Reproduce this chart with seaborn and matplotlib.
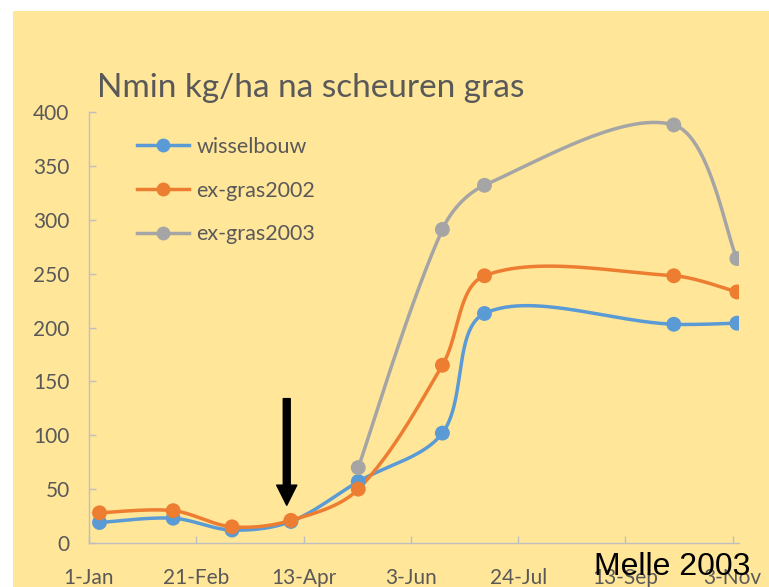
import numpy as np
import pandas as pd
import matplotlib
matplotlib.use("Agg")
import matplotlib.pyplot as plt
import seaborn as sns
from matplotlib.lines import Line2D
from matplotlib.patches import Rectangle

# ---- data ----
dates = ["2003-01-06", "2003-02-10", "2003-03-10", "2003-04-07", "2003-05-09",
         "2003-06-18", "2003-07-08", "2003-10-06", "2003-11-05"]
wisselbouw = [19, 23, 12, 20, 57, 102, 213, 203, 204]
ex_gras2002 = [28, 30, 15, 21, 50, 165, 248, 248, 233]
ex_gras2003 = [np.nan, np.nan, np.nan, np.nan, 70, 291, 332, 388, 264]
series_names = ["wisselbouw", "ex-gras2002", "ex-gras2003"]
tick_labels = ["1-Jan", "21-Feb", "13-Apr", "3-Jun", "24-Jul", "13-Sep", "3-Nov"]
tick_dates = ["2003-01-01", "2003-02-21", "2003-04-13", "2003-06-03",
              "2003-07-24", "2003-09-13", "2003-11-03"]
arrow_date = "2003-04-05"
arrow_from, arrow_to = 134, 35

colors = {"wisselbouw": "#5B9BD5", "ex-gras2002": "#ED7D31", "ex-gras2003": "#A5A5A5"}

origin = pd.Timestamp("2003-01-01")
days = np.array([(pd.Timestamp(d) - origin).days for d in dates], dtype=float)
tick_days = [(pd.Timestamp(d) - origin).days for d in tick_dates]

rows = []
for name, vals in zip(series_names, [wisselbouw, ex_gras2002, ex_gras2003]):
    for d, v in zip(days, vals):
        if not np.isnan(v):
            rows.append({"series": name, "day": d, "value": v})
df = pd.DataFrame(rows)

# smooth curve (Excel-like Bezier) in screen-proportional space
SX, SY = 2.104, 1.078
def smooth(x, y, n=60):
    P = np.column_stack([x * SX, y * SY])
    out = []
    m = len(P)
    for i in range(m - 1):
        p0 = P[i - 1] if i > 0 else P[i]
        p1, p2 = P[i], P[i + 1]
        p3 = P[i + 2] if i + 2 < m else P[i + 1]
        d01 = np.linalg.norm(p1 - p0)
        d12 = np.linalg.norm(p2 - p1)
        d23 = np.linalg.norm(p3 - p2)
        f1 = d12 / (d01 + d12) if d01 > 0 else 0.5
        f2 = d12 / (d12 + d23) if d23 > 0 else 0.5
        c1 = p1 + (p2 - p0) * f1 / 3.0
        c2 = p2 - (p3 - p1) * f2 / 3.0
        t = np.linspace(0, 1, n)[:, None]
        b = (1 - t) ** 3 * p1 + 3 * (1 - t) ** 2 * t * c1 + 3 * (1 - t) * t ** 2 * c2 + t ** 3 * p2
        out.append(b if i == 0 else b[1:])
    B = np.vstack(out)
    return B[:, 0] / SX, B[:, 1] / SY

srows = []
for name in series_names:
    sub = df[df.series == name]
    sx, sy = smooth(sub.day.values, sub.value.values)
    for a, b in zip(sx, sy):
        srows.append({"series": name, "day": a, "value": b})
sdf = pd.DataFrame(srows)

# ---- figure ----
W, H = 769, 587
fig = plt.figure(figsize=(W / 100, H / 100), dpi=100)
fig.patch.set_facecolor("white")
fig.add_artist(Rectangle((13 / W, 0), 1 - 13 / W, (H - 11) / H, transform=fig.transFigure,
                         facecolor="#FFE699", edgecolor="none", zorder=0))

ax = fig.add_axes([89 / W, (H - 543) / H, (739 - 89) / W, (543 - 112) / H])
ax.set_facecolor("none")

font = "Lato"
gray_txt = "#595959"

sns.lineplot(data=sdf, x="day", y="value", hue="series", palette=colors, sort=False,
             estimator=None, units="series", linewidth=2.5, legend=False, ax=ax, zorder=3)
sns.scatterplot(data=df, x="day", y="value", hue="series", palette=colors, s=115,
                edgecolor="none", legend=False, ax=ax, zorder=4)

ax.set_xlim(0, 309)
ax.set_ylim(0, 400)
ax.set_yticks(range(0, 401, 50))
ax.set_xticks(tick_days)
ax.set_xticklabels(tick_labels)
ax.set_xlabel("")
ax.set_ylabel("")
for s in ["top", "right"]:
    ax.spines[s].set_visible(False)
for s in ["left", "bottom"]:
    ax.spines[s].set_color("#BFBFBF")
    ax.spines[s].set_linewidth(1.0)
ax.tick_params(axis="both", direction="in", length=5, width=1, color="#BFBFBF",
               labelcolor=gray_txt, labelsize=15)
ax.tick_params(axis="y", pad=14)
ax.tick_params(axis="x", pad=18)
for lab in ax.get_xticklabels() + ax.get_yticklabels():
    lab.set_fontfamily(font)
ax.grid(False)

# arrow
ad = (pd.Timestamp(arrow_date) - origin).days
ax.annotate("", xy=(ad, arrow_to), xytext=(ad, arrow_from),
            arrowprops=dict(facecolor="black", edgecolor="black", width=5,
                            headwidth=14.5, headlength=14.5, shrink=0), zorder=5)

# legend
handles = [Line2D([0], [0], color=colors[n], lw=2.5, marker="o", markersize=10,
                  markeredgecolor="none") for n in series_names]
leg = ax.legend(handles, series_names, loc="upper left",
                bbox_to_anchor=(137 / W, (H - 137) / H), bbox_transform=fig.transFigure,
                frameon=False, handlelength=2.4, handletextpad=0.35, borderpad=0,
                borderaxespad=0, labelspacing=1.1, prop={"family": font, "size": 15.5})
for t in leg.get_texts():
    t.set_color(gray_txt)

# title
fig.text(97 / W, (H - 97) / H, "Nmin kg/ha na scheuren gras", fontsize=24,
         family=font, color=gray_txt, ha="left", va="baseline")

# annotation
fig.text(594 / W, (H - 575) / H, "Melle 2003", fontsize=23, family="Liberation Sans",
         color="black", ha="left", va="baseline", zorder=10)

fig.savefig("out.png", dpi=100)
